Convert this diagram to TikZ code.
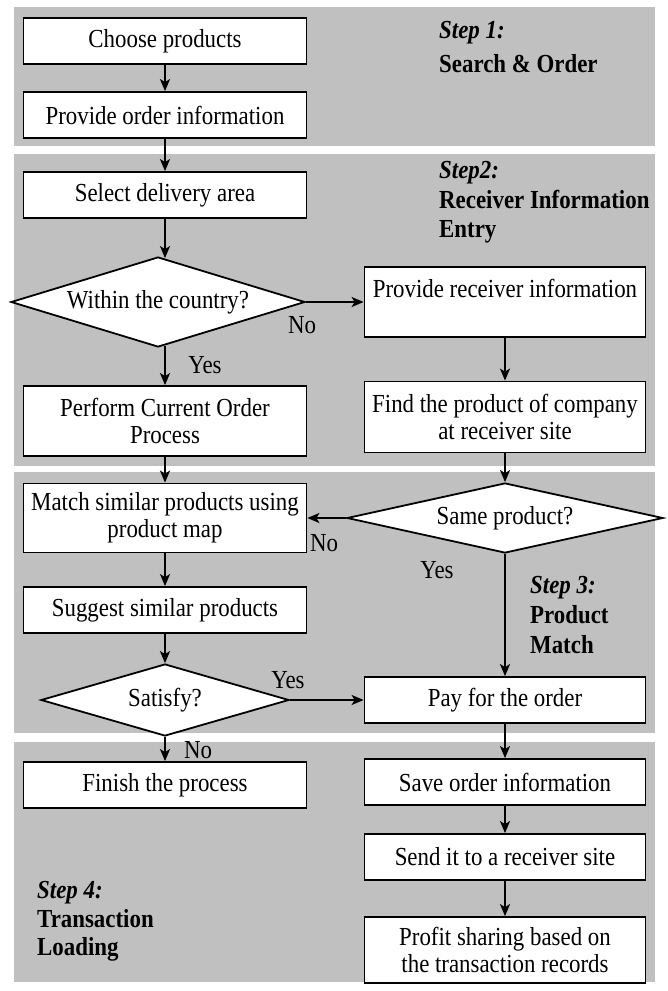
\documentclass[tikz,border=0pt]{standalone}
\usepackage{fontspec}
\setmainfont{Liberation Serif}[FakeStretch=0.88]
\usetikzlibrary{shapes.geometric,arrows.meta,calc}
\definecolor{panelgray}{RGB}{192,192,192}
\begin{document}
\begin{tikzpicture}[x=1pt,y=-1pt,
  font=\fontsize{26}{27}\selectfont,
  box/.style={draw, line width=1.8pt, fill=white, minimum width=283pt, minimum height=46pt, inner sep=0pt, align=center},
  rbox/.style={box, minimum width=281pt},
  dec/.style={draw, diamond, line width=1.8pt, fill=white, inner sep=0pt, aspect=1},
  arr/.style={line width=1.8pt, -{Stealth[length=12pt,width=10pt,inset=3pt]}},
  lbl/.style={inner sep=0pt},
  stepit/.style={inner sep=0pt, anchor=base west, font=\fontsize{26}{27}\selectfont\bfseries\itshape},
  stepbf/.style={inner sep=0pt, anchor=base west, font=\fontsize{26}{27}\selectfont\bfseries}
]
\useasboundingbox (0,0) rectangle (668,991);
% panels
\fill[panelgray] (14,7) rectangle (655,146);
\fill[panelgray] (14,154) rectangle (655,466);
\fill[panelgray] (14,472) rectangle (655,733);
\fill[panelgray] (14,742) rectangle (655,982);

% left column
\node[box] (A) at (165,41) {Choose products};
\node[box] (B) at (165,115) {Provide order information};
\node[box] (C) at (165,195) {Select delivery area};
\node[dec, minimum width=294pt, minimum height=90pt] (D) at (158,302) {\makebox[0pt]{Within the country?}};
\node[box, minimum height=70pt] (E) at (165,421) {Perform Current Order\\Process};
\node[box, minimum height=69pt] (F) at (165,518) {Match similar products using\\product map};
\node[box] (G) at (165,610) {Suggest similar products};
\node[dec, minimum width=248pt, minimum height=72pt] (H) at (165,700) {\makebox[0pt]{Satisfy?}};
\node[box] (I) at (165,785) {Finish the process};

% right column
\node[rbox, minimum height=70pt] (J) at (505,302) {Provide receiver information\\\mbox{}};
\node[rbox, minimum height=71pt] (K) at (505,417) {Find the product of company\\at receiver site};
\node[dec, minimum width=316pt, minimum height=70pt] (L) at (505,518) {\makebox[0pt]{Same product?}};
\node[rbox] (M) at (505,700) {Pay for the order};
\node[rbox] (N) at (505,782) {Save order information};
\node[rbox] (O) at (505,857) {Send it to a receiver site};
\node[rbox, minimum height=66pt] (P) at (505,950) {Profit sharing based on\\the transaction records};

% arrows
\draw[arr] (A) -- (B);
\draw[arr] (B) -- (C);
\draw[arr, shorten >=-2pt] (C.south) -- (C.south |- D.north);
\draw[arr, shorten <=-2pt] (E.north |- D.south) -- (E.north);
\draw[arr] (D.east) -- (J.west);
\draw[arr] (J) -- (K);
\draw[arr] (K) -- (L);
\draw[arr] (E) -- (F);
\draw[arr] (L.west) -- (F.east);
\draw[arr] (F) -- (G);
\draw[arr] (G) -- (H);
\draw[arr] (L) -- (M);
\draw[arr] (H.east) -- (M.west);
\draw[arr] (H) -- (I);
\draw[arr] (M) -- (N);
\draw[arr] (N) -- (O);
\draw[arr] (O) -- (P);

% branch labels
\node[lbl] (no1) at (302,325) {No};
\node[lbl] (yes1) at (205,365) {Yes};
\node[lbl] (no2) at (324,543) {No};
\node[lbl] (yes2) at (437,570) {Yes};
\node[lbl] (yes3) at (288,680) {Yes};
\node[lbl] (no3) at (198,750) {No};

% step labels
\node[stepit] (s1a) at (439,38) {Step 1:};
\node[stepbf] (s1b) at (439,72) {Search \& Order};
\node[stepit] (s2a) at (439,178) {Step2:};
\node[stepbf] (s2b) at (439,208) {Receiver Information};
\node[stepbf] (s2c) at (439,237) {Entry};
\node[stepit] (s3a) at (530,593) {Step 3:};
\node[stepbf] (s3b) at (530,623) {Product};
\node[stepbf] (s3c) at (530,653) {Match};
\node[stepit] (s4a) at (37,898) {Step 4:};
\node[stepbf] (s4b) at (37,927) {Transaction};
\node[stepbf] (s4c) at (37,955) {Loading};
\end{tikzpicture}
\end{document}
